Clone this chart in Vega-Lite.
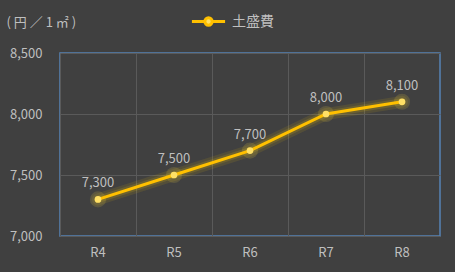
{
  "$schema": "https://vega.github.io/schema/vega-lite/v6.json",
  "width": 380,
  "height": 183,
  "autosize": {"type": "none"},
  "padding": {"left": 60, "top": 53, "right": 15, "bottom": 36},
  "background": "#404040",
  "config": {
    "view": {"stroke": "#5583b5", "strokeWidth": 1.5},
    "font": "Noto Sans CJK JP",
    "axis": {"labelColor": "#bfbfbf", "labelFontSize": 13, "labelFont": "Noto Sans CJK JP", "gridColor": "#5a5a5a", "gridWidth": 1}
  },
  "data": {"values": [
    {"year": "R4", "cost": 7300, "series": "土盛費"},
    {"year": "R5", "cost": 7500, "series": "土盛費"},
    {"year": "R6", "cost": 7700, "series": "土盛費"},
    {"year": "R7", "cost": 8000, "series": "土盛費"},
    {"year": "R8", "cost": 8100, "series": "土盛費"}
  ]},
  "encoding": {
    "x": {"field": "year", "type": "ordinal", "scale": {"paddingInner": 0, "paddingOuter": 0}, "axis": null},
    "y": {"field": "cost", "type": "quantitative", "scale": {"domain": [7000, 8500], "nice": false},
      "axis": {"orient": "left", "values": [7000, 7500, 8000, 8500], "labelExpr": "format(datum.value, ',')", "grid": true, "ticks": false, "domain": false, "labelPadding": 18, "title": "( 円 ／ 1 ㎡ )", "titleAngle": 0, "titleX": -54, "titleY": -31, "titleAlign": "left", "titleBaseline": "middle", "titleColor": "#bfbfbf", "titleFontSize": 13, "titleFontWeight": "normal"}}
  },
  "layer": [
    {
      "mark": {"type": "rule", "opacity": 0},
      "encoding": {
        "x": {"field": "year", "type": "ordinal", "axis": {"orient": "top", "grid": true, "bandPosition": 0, "labels": false, "ticks": false, "domain": false, "title": null}}
      }
    },
    {
      "mark": {"type": "line", "color": "#ffd000", "strokeWidth": 12, "opacity": 0.1, "strokeCap": "round"},
      "encoding": {}
    },
    {
      "mark": {"type": "line", "color": "#ffd000", "strokeWidth": 7, "opacity": 0.15, "strokeCap": "round"},
      "encoding": {}
    },
    {
      "mark": {"type": "point", "filled": true, "color": "#ffe040", "size": 260, "opacity": 0.15},
      "encoding": {}
    },
    {
      "mark": {"type": "line", "strokeWidth": 3},
      "encoding": {
        "x": {"field": "year", "type": "ordinal", "axis": {"orient": "bottom", "grid": false, "ticks": false, "domain": false, "title": null, "labelAngle": 0, "labelPadding": 10}},
        "color": {"field": "series", "type": "nominal", "scale": {"range": ["#ffc000"]}, "legend": {"orient": "none", "legendX": 130, "legendY": -50, "title": null, "symbolType": "M-1,0H-0.22A0.22,0.22 0 1,1 0.22,0H1M0.22,0A0.22,0.22 0 1,1 -0.22,0", "symbolSize": 1100, "symbolStrokeWidth": 3, "symbolStrokeColor": "#ffc000", "symbolFillColor": "#ffe066", "labelColor": "#bfbfbf", "labelFontSize": 14, "labelOffset": 5}}
      }
    },
    {
      "mark": {"type": "point", "filled": true, "color": "#ffe066", "size": 45, "opacity": 1},
      "encoding": {}
    },
    {
      "mark": {"type": "text", "dy": -16, "color": "#bfbfbf", "fontSize": 13},
      "encoding": {"text": {"field": "cost", "type": "quantitative", "format": ","}}
    }
  ],
  "resolve": {"axis": {"x": "independent"}}
}
